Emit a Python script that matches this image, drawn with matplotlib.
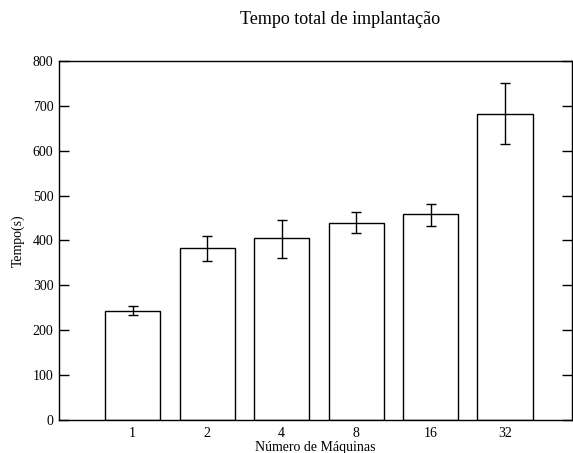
import matplotlib
matplotlib.use("Agg")
import matplotlib.pyplot as plt
import numpy as np

categories = ["1", "2", "4", "8", "16", "32"]
values = [244, 384, 405, 439, 458, 682]
err_low = [235, 355, 362, 416, 433, 614]
err_high = [253, 411, 446, 463, 482, 750]

plt.rcParams['font.family'] = ['Liberation Serif', 'DejaVu Serif']

W, H = 573, 453
fig = plt.figure(figsize=(W / 100, H / 100), dpi=100)
ax = fig.add_axes([59 / W, 1 - 420 / H, (572 - 59) / W, (420 - 61) / H])

x = np.arange(len(categories))
vals = np.array(values)
yerr = np.vstack([vals - np.array(err_low), np.array(err_high) - vals])
ax.bar(x, vals, width=0.74, color='white', edgecolor='black', linewidth=1.0, zorder=2)
ax.errorbar(x, vals, yerr=yerr, fmt='none', ecolor='black', elinewidth=1.0,
            capsize=3.3, capthick=1.0, zorder=3)

ax.set_xlim(-0.99, 5.9)
ax.set_ylim(0, 800)
ax.set_yticks(range(0, 801, 100))
ax.set_xticks(x)
ax.set_xticklabels(categories)
ax.tick_params(axis='y', direction='in', length=7, width=1, right=True, labelsize=10, pad=4)
ax.tick_params(axis='x', length=0, labelsize=10, pad=5)
for s in ax.spines.values():
    s.set_linewidth(1.0)

ax.set_xlabel("Número de Máquinas", fontsize=10, labelpad=1)
ax.set_ylabel("Tempo(s)", fontsize=10, labelpad=6)
fig.text(340 / W, 1 - 20 / H, "Tempo total de implantação", ha='center', va='center', fontsize=13)

fig.savefig("out.png", dpi=100)
